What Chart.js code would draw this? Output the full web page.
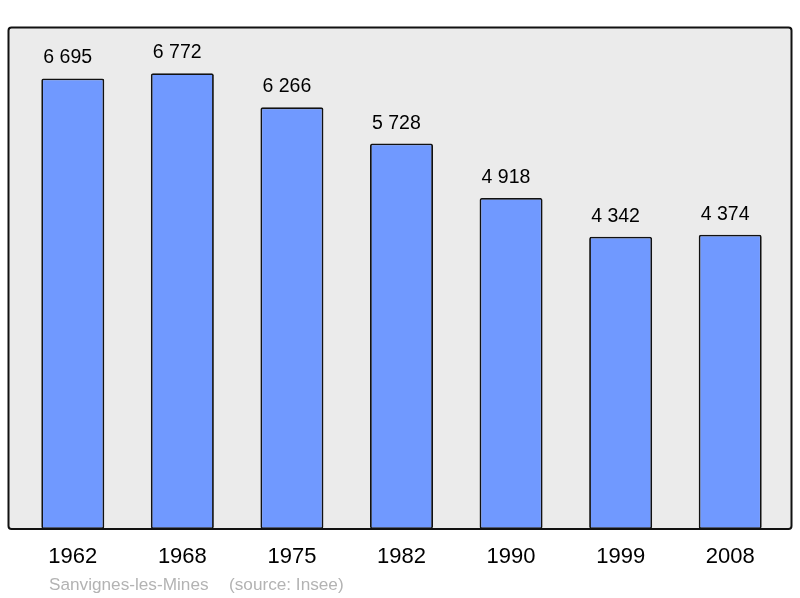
<!DOCTYPE html>
<html>
<head>
<meta charset="utf-8">
<script src="https://cdn.jsdelivr.net/npm/chart.js@4/dist/chart.umd.min.js"></script>
<style>
html,body{margin:0;padding:0;background:#fff;}
#wrap{width:800px;height:598px;position:relative;}
</style>
</head>
<body>
<div id="wrap"><canvas id="c" width="800" height="598"></canvas></div>
<script>
const years = ["1962", "1968", "1975", "1982", "1990", "1999", "2008"];
const population = [6695, 6772, 6266, 5728, 4918, 4342, 4374];
const footerPlace = "Sanvignes-les-Mines";
const footerSource = "(source: Insee)";

function fmt(v) {
  return String(v).replace(/\B(?=(\d{3})+(?!\d))/g, " ");
}

const boxPlugin = {
  id: "boxPlugin",
  beforeDraw(chart) {
    const a = chart.chartArea, ctx = chart.ctx;
    const x0 = a.left - 9.5, x1 = a.right + 6.5, y0 = a.top + 0.5, y1 = a.bottom;
    ctx.save();
    ctx.beginPath();
    ctx.roundRect(x0, y0, x1 - x0, y1 - y0, 3);
    ctx.fillStyle = "#ebebeb";
    ctx.fill();
    ctx.restore();
  },
  afterDatasetsDraw(chart) {
    const a = chart.chartArea, ctx = chart.ctx;
    const x0 = a.left - 9.5, x1 = a.right + 6.5, y0 = a.top + 0.5, y1 = a.bottom;
    ctx.save();
    ctx.beginPath();
    ctx.roundRect(x0, y0, x1 - x0, y1 - y0, 3);
    ctx.lineWidth = 2;
    ctx.strokeStyle = "#111";
    ctx.stroke();
    // value labels
    const meta = chart.getDatasetMeta(0);
    ctx.fillStyle = "#000";
    ctx.font = "19.5px 'Liberation Sans', Arial, sans-serif";
    ctx.textAlign = "left";
    ctx.textBaseline = "alphabetic";
    meta.data.forEach((bar, i) => {
      ctx.fillText(fmt(population[i]), bar.x - bar.width / 2 + 2, bar.y - 15);
    });
    // footer
    ctx.fillStyle = "#b3b3b3";
    ctx.font = "17.2px 'Liberation Sans', Arial, sans-serif";
    ctx.textAlign = "left";
    ctx.fillText(footerPlace, 49, 590);
    ctx.fillText(footerSource, 229, 590);
    ctx.restore();
  }
};

new Chart(document.getElementById("c"), {
  type: "bar",
  data: {
    labels: years,
    datasets: [{
      data: population,
      backgroundColor: "#7099ff",
      borderColor: "#111",
      borderWidth: 1.8,
      borderRadius: 2,
      borderSkipped: false,
      categoryPercentage: 0.575,
      barPercentage: 1.0
    }]
  },
  options: {
    responsive: false,
    animation: false,
    layout: { padding: { left: 18, right: 15, top: 27, bottom: 12.6 } },
    plugins: { legend: { display: false }, tooltip: { enabled: false }, title: { display: false } },
    scales: {
      x: {
        grid: { display: false, drawTicks: false },
        border: { display: false },
        ticks: {
          color: "#000",
          padding: 15,
          font: { family: "'Liberation Sans', Arial, sans-serif", size: 22, lineHeight: 1.2 }
        }
      },
      y: {
        display: false,
        min: 0,
        max: 7460
      }
    }
  },
  plugins: [boxPlugin]
});
</script>
</body>
</html>
